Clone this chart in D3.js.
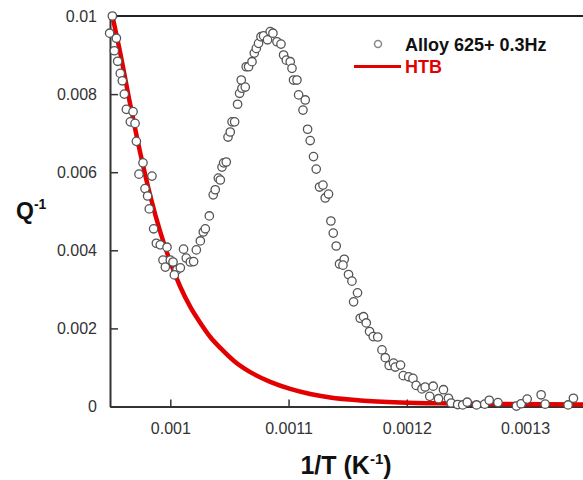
<!DOCTYPE html>
<html><head><meta charset="utf-8">
<script src="https://cdn.jsdelivr.net/npm/d3@7"></script>
<style>body{margin:0;background:#fff}svg{display:block}</style>
</head><body>
<svg id="c" width="583" height="480"></svg>
<script>
// measured points: 1/T (K^-1)
const xData = [0.000951,0.0009487,0.0009544,0.0009527,0.0009555,0.0009577,0.0009594,0.0009611,0.0009628,0.0009685,0.0009662,0.0009702,0.0009713,0.0009769,0.0009735,0.0009845,0.0009786,0.0009808,0.0009822,0.0009859,0.0009882,0.0009915,0.0009972,0.0009938,0.0009958,0.001,0.0010023,0.0010057,0.0010034,0.0010085,0.0010112,0.0010135,0.0010169,0.0010197,0.001022,0.0010254,0.0010279,0.0010296,0.001033,0.0010363,0.001038,0.0010406,0.0010423,0.0010437,0.0010451,0.0010473,0.0010488,0.0010507,0.0010522,0.0010544,0.0010569,0.0010586,0.0010606,0.00106,0.0010634,0.0010642,0.0010662,0.0010691,0.001071,0.0010727,0.0010746,0.0010767,0.0010789,0.0010822,0.0010845,0.0010868,0.0010902,0.0010936,0.0010958,0.0010981,0.0011014,0.0011029,0.0011042,0.0011071,0.0011085,0.0011122,0.0011141,0.0011161,0.0011183,0.0011211,0.0011234,0.0011262,0.0011291,0.001131,0.0011338,0.0011358,0.0011378,0.0011403,0.0011431,0.0011471,0.001146,0.0011507,0.0011536,0.001155,0.0011583,0.0011606,0.0011634,0.0011657,0.0011685,0.0011716,0.0011754,0.001179,0.0011818,0.0011851,0.0011888,0.0011902,0.0011947,0.001197,0.0012016,0.0012052,0.0012079,0.0012128,0.0012155,0.0012194,0.0012223,0.0012268,0.001231,0.0012352,0.0012375,0.001243,0.0012473,0.0012511,0.001259,0.0012659,0.0012697,0.0012771,0.0012927,0.0012967,0.0013018,0.0013136,0.001317,0.0013364,0.0013409];
// measured points: Q^-1
const qData = [0.0100,0.00956,0.00943,0.00911,0.00884,0.00853,0.00834,0.0080,0.00761,0.00755,0.00729,0.00725,0.00679,0.00624,0.00595,0.0059,0.00558,0.00539,0.00506,0.00455,0.00418,0.00414,0.00408,0.00375,0.00357,0.00375,0.0037,0.0035,0.00337,0.00355,0.00403,0.0038,0.0037,0.00371,0.00401,0.00424,0.00447,0.00455,0.00488,0.00542,0.00555,0.00585,0.0058,0.00613,0.00624,0.00626,0.0069,0.00703,0.00729,0.00729,0.00774,0.00802,0.00815,0.00836,0.00818,0.0087,0.0087,0.00883,0.00905,0.00917,0.0093,0.00947,0.00949,0.00939,0.0096,0.00956,0.00934,0.00928,0.009,0.00887,0.00883,0.00866,0.00836,0.00836,0.00798,0.00759,0.00785,0.0071,0.00681,0.0064,0.00608,0.00562,0.00567,0.00534,0.00544,0.00475,0.00444,0.00411,0.00365,0.00377,0.00362,0.00338,0.00321,0.00268,0.00291,0.00226,0.0023,0.00214,0.00192,0.00179,0.00178,0.00145,0.00125,0.00105,0.00111,0.00101,0.00106,0.00079,0.00076,0.00072,0.00054,0.00045,0.0005,0.00026,0.00052,0.0002,0.00043,0.00021,0.00009,0.00005,0.00004,0.00011,0.00004,0.00006,0.00016,0.0001,0.00001,0.00007,0.00019,0.0003,0.00006,0.00004,0.00021];
// HTB curve
const htbX = [0.000951,0.0009577,0.0009662,0.0009746,0.0009831,0.0009915,0.001,0.0010085,0.0010169,0.0010254,0.0010338,0.0010423,0.0010549,0.0010676,0.0010845,0.0011014,0.0011183,0.0011352,0.0011606,0.0011944,0.0012367,0.001279,0.0013491];
const htbQ = [0.0100,0.00905,0.00772,0.00649,0.00539,0.00447,0.0037,0.00306,0.00255,0.00214,0.00178,0.0015,0.00114,0.00088,0.00063,0.00045,0.00032,0.00023,0.000154,0.000102,0.000077,0.000064,0.000051];
const xTicks = [0.001,0.0011,0.0012,0.0013];
const xTickLabels = ["0.001","0.0011","0.0012","0.0013"];
const yTicks = [0,0.002,0.004,0.006,0.008,0.01];
const yTickLabels = ["0","0.002","0.004","0.006","0.008","0.01"];
const seriesNames = ["Alloy 625+ 0.3Hz","HTB"];

const svg = d3.select("#c");
const font = "'Liberation Sans', Arial, sans-serif";
const L=110, R=583, T=16, B=406.5;
const x = d3.scaleLinear().domain([0.000949,0.001349]).range([L,R]);
const y = d3.scaleLinear().domain([0,0.01]).range([B,T]);

// top frame line
svg.append("line").attr("x1",L).attr("x2",R).attr("y1",T).attr("y2",T)
  .attr("stroke","#222").attr("stroke-width",2);

const xAxis = d3.axisBottom(x).tickValues(xTicks).tickFormat((d,i)=>xTickLabels[i]).tickSizeInner(-7).tickSizeOuter(0).tickPadding(16);
const gx = svg.append("g").attr("transform",`translate(0,${B})`).call(xAxis);
const yAxis = d3.axisLeft(y).tickValues(yTicks).tickFormat((d,i)=>yTickLabels[i]).tickSizeInner(-8).tickSizeOuter(0).tickPadding(13);
const gy = svg.append("g").attr("transform",`translate(${L},0)`).call(yAxis);
[gx,gy].forEach(g=>{
  g.select(".domain").attr("stroke","#333").attr("stroke-width",2);
  g.selectAll(".tick line").attr("stroke","#333").attr("stroke-width",1.5);
  g.selectAll(".tick text").attr("fill","#333").style("font-family",font).style("font-size","16px");
});

// HTB curve
const line = d3.line().x((d,i)=>x(htbX[i])).y((d,i)=>y(htbQ[i])).curve(d3.curveMonotoneX);
svg.append("path").datum(htbQ).attr("d",line).attr("fill","none")
  .attr("stroke","#e30000").attr("stroke-width",4.5);

// data points
svg.append("g").selectAll("circle").data(qData).join("circle")
  .attr("cx",(d,i)=>x(xData[i])).attr("cy",d=>y(d)).attr("r",4.2)
  .attr("fill","#fff").attr("stroke","#555").attr("stroke-width",1.3);

// legend
svg.append("circle").attr("cx",378).attr("cy",44).attr("r",3.5)
  .attr("fill","#fff").attr("stroke","#888").attr("stroke-width",1.5);
svg.append("text").attr("x",405).attr("y",51).text(seriesNames[0])
  .style("font-family",font).style("font-size","18px").style("font-weight","bold").attr("fill","#111");
svg.append("line").attr("x1",354).attr("x2",401).attr("y1",66.5).attr("y2",66.5)
  .attr("stroke","#e30000").attr("stroke-width",3);
svg.append("text").attr("x",405).attr("y",73).text(seriesNames[1])
  .style("font-family",font).style("font-size","18px").style("font-weight","bold").attr("fill","#e30000");

// axis titles
const yt = svg.append("text").attr("x",16).attr("y",219)
  .style("font-family",font).style("font-weight","bold").attr("fill","#111");
yt.append("tspan").text("Q").style("font-size","23px");
yt.append("tspan").text("-1").attr("dy",-10).style("font-size","14px");

const xt = svg.append("text").attr("x",346).attr("y",474).attr("text-anchor","middle")
  .style("font-family",font).style("font-weight","bold").attr("fill","#111");
xt.append("tspan").text("1/T (K").style("font-size","25px");
xt.append("tspan").text("-1").attr("dy",-10).style("font-size","15px");
xt.append("tspan").text(")").attr("dy",10).style("font-size","25px");
</script>
</body></html>
